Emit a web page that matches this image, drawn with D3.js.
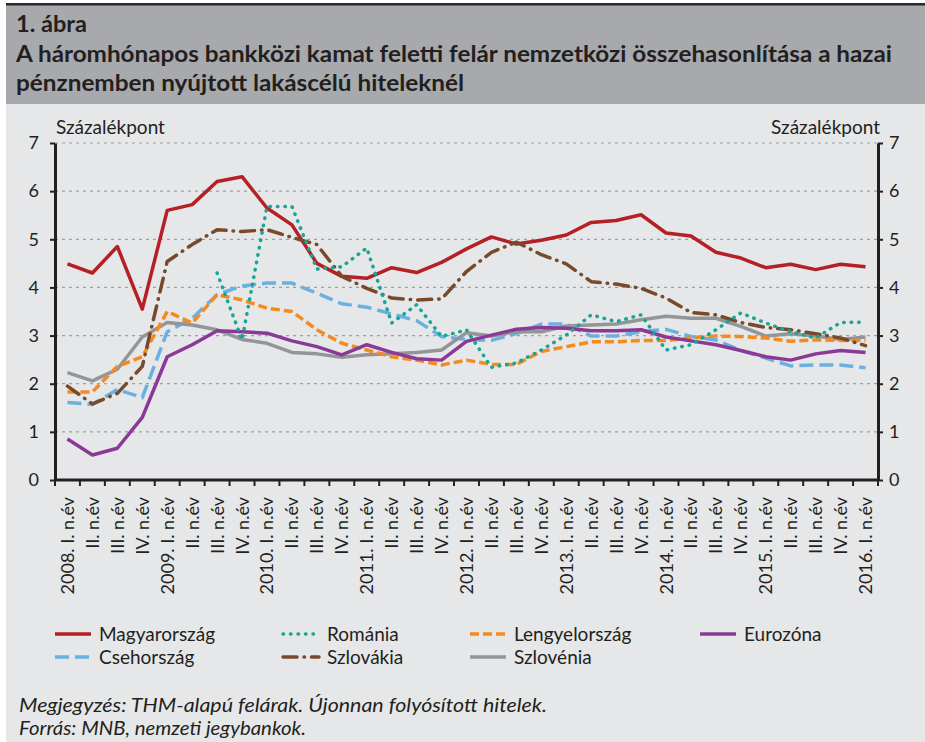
<!DOCTYPE html>
<html>
<head>
<meta charset="utf-8">
<script src="https://cdn.jsdelivr.net/npm/d3@7"></script>
<style>
  body { margin: 0; background: #ffffff; }
  text { font-family: Lato, "Open Sans", sans-serif; fill: #231f20; }
</style>
</head>
<body>
<div id="chart"></div>
<script>
// Quarters 2008 Q1 .. 2016 Q1
const quarters = [
  "2008. I. n.év", "II. n.év", "III. n.év", "IV. n.év",
  "2009. I. n.év", "II. n.év", "III. n.év", "IV. n.év",
  "2010. I. n.év", "II. n.év", "III. n.év", "IV. n.év",
  "2011. I. n.év", "II. n.év", "III. n.év", "IV. n.év",
  "2012. I. n.év", "II. n.év", "III. n.év", "IV. n.év",
  "2013. I. n.év", "II. n.év", "III. n.év", "IV. n.év",
  "2014. I. n.év", "II. n.év", "III. n.év", "IV. n.év",
  "2015. I. n.év", "II. n.év", "III. n.év", "IV. n.év",
  "2016. I. n.év"
];

const magyarorszag = [4.49, 4.3, 4.85, 3.55, 5.6, 5.72, 6.2, 6.3, 5.65, 5.3, 4.5, 4.23, 4.19, 4.41, 4.31, 4.52,
  4.8, 5.05, 4.9, 4.98, 5.09, 5.35, 5.39, 5.51, 5.13, 5.07, 4.73, 4.61, 4.41, 4.48, 4.37, 4.48, 4.43];
const romania = [null, null, null, null, null, null, 4.3, 2.91, 5.68, 5.68, 4.38, 4.43, 4.82, 3.26, 3.64, 2.98,
  3.12, 2.34, 2.43, 2.7, 3.01, 3.43, 3.29, 3.43, 2.7, 2.81, 3.12, 3.47, 3.26, 3.08, 2.95, 3.27, 3.28];
const lengyelorszag = [1.83, 1.83, 2.36, 2.56, 3.5, 3.26, 3.85, 3.74, 3.57, 3.5, 3.12, 2.84, 2.7, 2.56, 2.49, 2.39,
  2.49, 2.4, 2.4, 2.67, 2.77, 2.87, 2.87, 2.9, 2.9, 2.95, 2.99, 2.98, 2.95, 2.88, 2.91, 2.9, 2.9];
const eurozona = [0.85, 0.52, 0.66, 1.3, 2.56, 2.81, 3.1, 3.08, 3.05, 2.89, 2.77, 2.6, 2.81, 2.65, 2.52, 2.49,
  2.88, 3.01, 3.13, 3.17, 3.15, 3.1, 3.1, 3.12, 2.97, 2.89, 2.81, 2.69, 2.56, 2.49, 2.62, 2.69, 2.65];
const csehorszag = [1.61, 1.57, 1.88, 1.71, 3.08, 3.36, 3.85, 4.03, 4.09, 4.09, 3.88, 3.66, 3.59, 3.45, 3.31, 2.98,
  2.92, 2.9, 3.04, 3.24, 3.24, 2.99, 2.99, 3.08, 3.13, 2.98, 2.91, 2.69, 2.53, 2.37, 2.39, 2.39, 2.33];
const szlovakia = [1.95, 1.58, 1.8, 2.36, 4.54, 4.89, 5.2, 5.16, 5.2, 5.04, 4.89, 4.23, 3.98, 3.78, 3.74, 3.76,
  4.33, 4.73, 4.94, 4.68, 4.49, 4.12, 4.07, 3.98, 3.78, 3.48, 3.43, 3.27, 3.17, 3.12, 3.04, 2.95, 2.79];
const szlovenia = [2.23, 2.06, 2.3, 2.97, 3.27, 3.22, 3.12, 2.92, 2.84, 2.65, 2.62, 2.55, 2.6, 2.62, 2.65, 2.7,
  3.06, 2.99, 3.08, 3.08, 3.2, 3.22, 3.24, 3.33, 3.4, 3.36, 3.36, 3.19, 2.99, 3.04, 2.99, 2.92, 2.97];

const yTicks = [0, 1, 2, 3, 4, 5, 6, 7];

const series = [
  { name: "Magyarország", values: magyarorszag, color: "#b42025", dash: null, cap: "butt" },
  { name: "Csehország", values: csehorszag, color: "#6cb0df", dash: "14,6", cap: "butt" },
  { name: "Szlovénia", values: szlovenia, color: "#939598", dash: null, cap: "butt" },
  { name: "Lengyelország", values: lengyelorszag, color: "#f58a1f", dash: "9,4", cap: "butt" },
  { name: "Szlovákia", values: szlovakia, color: "#774a2c", dash: "14,7,0.5,7", cap: "round" },
  { name: "Eurozóna", values: eurozona, color: "#8a3a96", dash: null, cap: "butt" },
  { name: "Románia", values: romania, color: "#16a596", dash: "0.5,7", cap: "round" }
];

const legendOrder = [
  ["Magyarország", "Románia", "Lengyelország", "Eurozóna"],
  ["Csehország", "Szlovákia", "Szlovénia"]
];

const W = 925, H = 742;
const margin = { top: 143, right: 47, bottom: 262, left: 55 };
const width = W - margin.left - margin.right;
const height = H - margin.top - margin.bottom;

const root = d3.select("#chart").append("svg")
  .attr("width", W)
  .attr("height", H);

// background panels
root.append("rect").attr("x", 0).attr("y", 0).attr("width", W).attr("height", H).attr("fill", "#e6e7e8");
root.append("rect").attr("x", 0).attr("y", 5).attr("width", W).attr("height", 99).attr("fill", "#a7a9ac");
root.append("rect").attr("x", 0).attr("y", 0).attr("width", W).attr("height", 3).attr("fill", "#ffffff");
root.append("rect").attr("x", 0).attr("y", 3).attr("width", W).attr("height", 2.5).attr("fill", "#2b2b2b");
root.append("rect").attr("x", 0).attr("y", 0).attr("width", 6).attr("height", H).attr("fill", "#ffffff");

// title
const titleLines = [
  { text: "1. ábra", y: 32, len: 71 },
  { text: "A háromhónapos bankközi kamat feletti felár nemzetközi összehasonlítása a hazai", y: 62, len: 876 },
  { text: "pénznemben nyújtott lakáscélú hiteleknél", y: 91, len: 448 }
];
titleLines.forEach(t => {
  root.append("text").attr("x", 16).attr("y", t.y)
    .style("font-weight", "bold").style("font-size", "22px")
    .attr("textLength", t.len).attr("lengthAdjust", "spacingAndGlyphs")
    .text(t.text);
});

const svg = root.append("g")
  .attr("transform", "translate(" + margin.left + "," + margin.top + ")");

const x = d3.scaleBand()
  .domain(d3.range(quarters.length))
  .range([0, width]);

const y = d3.scaleLinear()
  .domain([0, 7])
  .range([height, 0]);

// dotted gridlines
svg.append("g")
  .selectAll("line")
  .data(yTicks.filter(d => d > 0))
  .enter()
  .append("line")
  .attr("x1", 0)
  .attr("x2", width)
  .attr("y1", d => y(d))
  .attr("y2", d => y(d))
  .attr("stroke", "#9d9fa2")
  .attr("stroke-width", 1.2)
  .attr("stroke-dasharray", "3,4");

// lines
const line = d3.line()
  .defined(d => d != null)
  .x((d, i) => x(i) + x.bandwidth() / 2)
  .y(d => y(d));

series.forEach(s => {
  svg.append("path")
    .datum(s.values)
    .attr("fill", "none")
    .attr("stroke", s.color)
    .attr("stroke-width", 3.5)
    .attr("stroke-linejoin", "round")
    .attr("stroke-linecap", s.cap)
    .attr("stroke-dasharray", s.dash)
    .attr("d", line);
});

// axes
const axisStyle = g => {
  g.select(".domain").attr("stroke", "#231f20").attr("stroke-width", 3);
  g.selectAll(".tick line").attr("stroke", "#231f20").attr("stroke-width", 2);
  g.selectAll("text").style("font-size", "18px").style("font-family", "Lato, sans-serif").attr("fill", "#231f20");
};

svg.append("g")
  .call(d3.axisLeft(y).tickValues(yTicks).tickFormat(d3.format("d")).tickSize(5).tickPadding(11).tickSizeOuter(0))
  .call(axisStyle);

svg.append("g")
  .attr("transform", "translate(" + width + ",0)")
  .call(d3.axisRight(y).tickValues(yTicks).tickFormat(d3.format("d")).tickSize(5).tickPadding(6).tickSizeOuter(0))
  .call(axisStyle);

// x axis with ticks on band boundaries
const xAxis = svg.append("g")
  .attr("transform", "translate(0," + height + ")");
xAxis.append("line")
  .attr("x1", 0).attr("x2", width)
  .attr("stroke", "#231f20").attr("stroke-width", 3);
xAxis.selectAll(".qtick")
  .data(d3.range(quarters.length + 1))
  .enter()
  .append("line")
  .attr("class", "qtick")
  .attr("x1", d => d * x.step())
  .attr("x2", d => d * x.step())
  .attr("y1", 0).attr("y2", 6)
  .attr("stroke", "#231f20").attr("stroke-width", 2);
xAxis.selectAll(".qlabel")
  .data(quarters)
  .enter()
  .append("text")
  .attr("class", "qlabel")
  .attr("transform", (d, i) => "translate(" + (x(i) + x.bandwidth() / 2 + 6.5) + ",17) rotate(-90)")
  .attr("text-anchor", "end")
  .style("font-size", "18px")
  .text(d => d);

// unit labels
svg.append("text").attr("x", 1).attr("y", -9).style("font-size", "19px").text("Százalékpont");
svg.append("text").attr("x", width + 2).attr("y", -9).attr("text-anchor", "end").style("font-size", "19px").text("Százalékpont");

// legend
const legendX = [55, 283, 470, 700];
const legend = root.append("g");
legendOrder.forEach((row, r) => {
  row.forEach((name, c) => {
    const s = series.find(d => d.name === name);
    const g = legend.append("g")
      .attr("transform", "translate(" + legendX[c] + "," + (634 + r * 23) + ")");
    g.append("line")
      .attr("x1", 0).attr("x2", 36)
      .attr("stroke", s.color)
      .attr("stroke-width", 3.5)
      .attr("stroke-linecap", s.cap)
      .attr("stroke-dasharray", s.dash);
    g.append("text")
      .attr("x", 44).attr("y", 6.5)
      .style("font-size", "19px")
      .text(name);
  });
});

// notes
root.append("text").attr("x", 19).attr("y", 712)
  .style("font-style", "italic").style("font-size", "19px")
  .attr("textLength", 528).attr("lengthAdjust", "spacingAndGlyphs")
  .text("Megjegyzés: THM-alapú felárak. Újonnan folyósított hitelek.");
root.append("text").attr("x", 19).attr("y", 735)
  .style("font-style", "italic").style("font-size", "19px")
  .attr("textLength", 287).attr("lengthAdjust", "spacingAndGlyphs")
  .text("Forrás: MNB, nemzeti jegybankok.");
</script>
</body>
</html>
